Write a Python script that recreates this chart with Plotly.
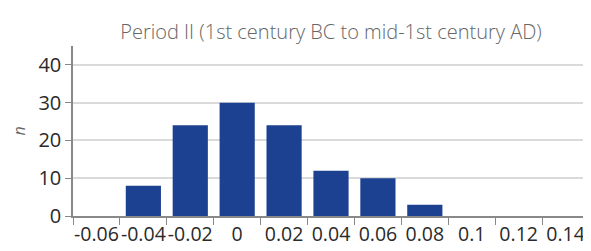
import plotly.graph_objects as go

categories = ["-0.06", "-0.04", "-0.02", "0", "0.02", "0.04", "0.06", "0.08", "0.1", "0.12", "0.14"]
counts = [0, 8, 24, 30, 24, 12, 10, 3, 0, 0, 0]
title_text = "Period II (1st century BC to mid-1st century AD)"
y_ticks = [0, 10, 20, 30, 40]

fig = go.Figure(go.Bar(x=categories, y=counts, marker=dict(color="#1d4191", line=dict(width=0))))

# page body has an 8px margin, so the figure is sized to fit the 591x251 window
fig.update_layout(
    width=583, height=243,
    margin=dict(l=65, r=2, t=38, b=35),
    paper_bgcolor="white", plot_bgcolor="white",
    bargap=0.25,
    font=dict(family="Open Sans", color="#333333"),
    title=dict(text=title_text, x=0.554, xanchor="center", y=0.9, yanchor="middle",
               font=dict(family="Open Sans", size=20, color="#666666", weight=300)),
    showlegend=False,
)
fig.update_xaxes(
    type="category", tickson="boundaries", ticks="outside", ticklen=7, tickcolor="#888888",
    showline=True, linecolor="#888888", linewidth=1.5, showgrid=False,
    tickfont=dict(size=19.5, color="#2a2a2a"), tickangle=0, range=[-0.5, 10.5],
    automargin=False,
)
fig.update_yaxes(
    range=[0, 45], tickvals=y_ticks, ticks="outside", ticklen=6, tickcolor="#888888",
    showline=True, linecolor="#888888", linewidth=1.5,
    showgrid=True, gridcolor="#dadada", gridwidth=1.5, zeroline=False,
    tickfont=dict(size=20, color="#2a2a2a"), automargin=False,
    title=dict(text="<i>n</i>", font=dict(size=16, color="#666666"), standoff=35),
)

fig.write_html("out.html")
